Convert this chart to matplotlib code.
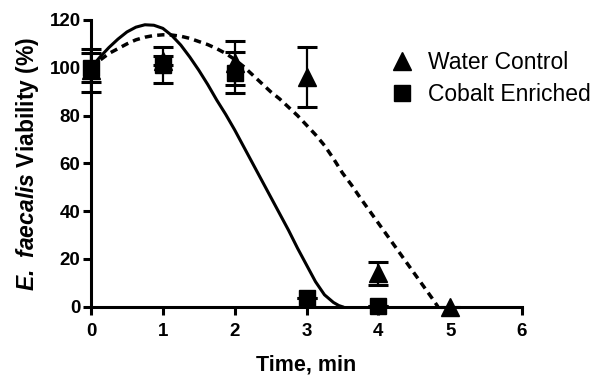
import matplotlib
matplotlib.use('Agg')
import matplotlib.pyplot as plt

plt.rcParams['font.family'] = ['Liberation Sans', 'DejaVu Sans']
plt.rcParams['mathtext.fontset'] = 'custom'
plt.rcParams['mathtext.bfit'] = 'Liberation Sans:italic:bold'
plt.rcParams['mathtext.rm'] = 'Liberation Sans'

# data points (time in min, viability in %)
water_t = [0, 1, 2, 3, 4, 5]
water_v = [99, 103, 102, 96, 14, 0]
water_err = [9, 2, 9, 12.5, 4.7, 0]

cobalt_t = [0, 1, 2, 3, 4]
cobalt_v = [100, 101, 98, 3.5, 0.5]
cobalt_err = [6, 7.5, 8.5, 0, 0]

# fitted curves
cobalt_fit_t = [0, 0.125, 0.25, 0.375, 0.5, 0.625, 0.75, 0.875, 1.0, 1.125,
                1.25, 1.375, 1.5, 1.625, 1.75, 1.875, 2.0, 2.125, 2.25, 2.375,
                2.5, 2.625, 2.75, 2.875, 3.0, 3.125, 3.25, 3.375, 3.45, 3.5]
cobalt_fit = [100, 104.5, 108.5, 112, 115, 117, 118, 117.8, 116.5, 113.5,
              109.5, 104.5, 99, 93, 86.5, 80.5, 74, 67, 60, 53,
              46, 39, 32, 24.5, 17.5, 10.5, 5, 1.8, 0.5, 0]

water_fit_t = [0, 0.125, 0.25, 0.375, 0.5, 0.625, 0.75, 0.875, 1.0, 1.125,
               1.25, 1.375, 1.5, 1.625, 1.75, 1.875, 2.0, 2.125, 2.25, 2.375,
               2.5, 2.625, 2.75, 2.875, 3.0, 3.125, 3.25, 3.375, 3.5, 3.625,
               3.75, 4.0, 4.25, 4.5, 4.75, 4.83]
water_fit = [100, 103.2, 106, 108, 110, 111.7, 112.8, 113.5, 113.8, 113.7,
             113.2, 112.3, 111, 109.7, 108, 106, 103.5, 100.5, 97, 93.5,
             90, 87, 83.5, 80, 76, 72, 67.5, 62, 56, 51,
             45.5, 35, 24.5, 14, 3.5, 0]

fig = plt.figure(figsize=(6, 3.75), dpi=100)
ax = fig.add_axes([0.1517, 0.182, 0.7183, 0.7647])

ax.plot(cobalt_fit_t, cobalt_fit, color='black', lw=2.2, clip_on=False)
ax.plot(water_fit_t, water_fit, color='black', lw=2.5, linestyle=(0, (2.1, 1.5)), clip_on=False)

ax.errorbar(water_t, water_v, yerr=water_err, fmt='none', ecolor='black',
            elinewidth=1.6, capsize=7, capthick=2.2, clip_on=False)
ax.errorbar(cobalt_t, cobalt_v, yerr=cobalt_err, fmt='none', ecolor='black',
            elinewidth=1.6, capsize=7, capthick=2.2, clip_on=False)

ax.plot(water_t, water_v, '^', color='black', markersize=13, linestyle='None',
        label='Water Control', clip_on=False, zorder=5)
ax.plot(cobalt_t, cobalt_v, 's', color='black', markersize=12, linestyle='None',
        label='Cobalt Enriched', clip_on=False, zorder=5)

ax.set_xlim(0, 6)
ax.set_ylim(0, 120)
ax.set_xticks(range(0, 7))
ax.set_yticks(range(0, 121, 20))

for s in ['top', 'right']:
    ax.spines[s].set_visible(False)
for s in ['left', 'bottom']:
    ax.spines[s].set_linewidth(2.2)

ax.tick_params(axis='both', direction='out', length=5.5, width=2.2, labelsize=13.5, pad=2)
ax.tick_params(axis='x', pad=6)
for lab in ax.get_xticklabels() + ax.get_yticklabels():
    lab.set_fontweight('bold')

ax.set_xlabel('Time, min', fontsize=15.5, fontweight='bold', labelpad=11)
ax.set_ylabel(r'$\mathbfit{E.\ faecalis}$ Viability (%)', fontsize=16.5,
              fontweight='bold', labelpad=6)

ax.legend(loc='upper left', bbox_to_anchor=(0.651, 0.864), bbox_transform=fig.transFigure,
          frameon=False, fontsize=16.5, handlelength=1, handletextpad=0.63,
          borderpad=0, borderaxespad=0, labelspacing=0.38)

fig.savefig('out.png', dpi=100)
